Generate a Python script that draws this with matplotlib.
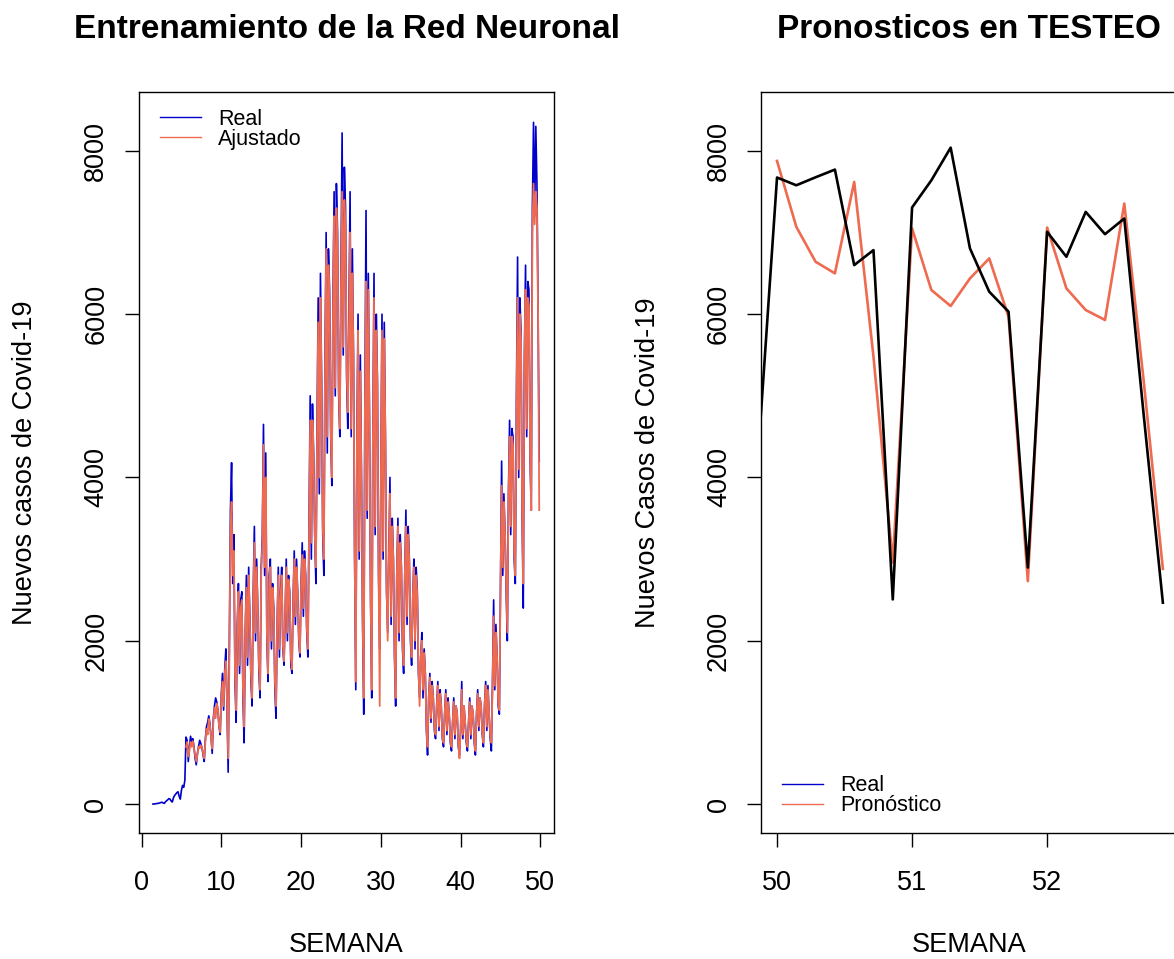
import matplotlib

matplotlib.use("Agg")
import matplotlib.pyplot as plt
import numpy as np
from matplotlib.lines import Line2D

plt.rcParams["font.family"] = ["Liberation Sans", "DejaVu Sans"]

BLUE = "#0000CD"
RED = "#EE6A50"

# day index d -> week d / 7
TRAIN_START_DAY = 10
FITTED_START_DAY = 39
TEST_START_DAY = 350

# daily new cases, training period (one row per week)
REAL_TRAIN = [
    0, 0, 2, 4,
    6, 9, 14, 18, 22, 12, 8,
    28, 40, 52, 66, 60, 36, 24,
    78, 104, 122, 140, 150, 94, 60,
    168, 228, 205, 290, 820, 780, 520,
    700, 830, 760, 800, 700, 560, 480,
    620, 700, 780, 740, 690, 600, 520,
    800, 950, 1000, 1080, 980, 820, 620,
    1050, 1200, 1300, 1250, 1150, 950, 850,
    1350, 1600, 1150, 1650, 1900, 1200, 390,
    1900, 3600, 4180, 2700, 3300, 1500, 1000,
    2200, 2700, 1600, 2500, 2600, 1300, 750,
    2100, 2800, 1700, 2900, 2300, 1500, 1200,
    2600, 3400, 2000, 3000, 2400, 1600, 1300,
    2900, 3300, 4650, 2800, 4300, 2000, 1500,
    2800, 3000, 1900, 2700, 2400, 1400, 1050,
    2200, 2900, 1800, 2600, 2900, 1900, 1700,
    2300, 3000, 2000, 2800, 2600, 1700, 1600,
    2500, 3100, 2200, 3000, 2600, 2000, 1800,
    2700, 3200, 2300, 3100, 2800, 2100, 1800,
    3500, 5000, 3000, 4900, 4300, 3300, 2700,
    4600, 6200, 3800, 6500, 5200, 3300, 2800,
    5500, 7000, 4300, 6800, 6300, 4500, 3900,
    6200, 7500, 5000, 7600, 7000, 5000, 4500,
    6500, 8220, 5500, 7800, 7300, 5200, 4600,
    6000, 7500, 4500, 6800, 5500, 3000, 1400,
    4500, 6000, 3000, 5500, 4000, 2200, 1100,
    5000, 7270, 3500, 6500, 4800, 2500, 1300,
    4500, 6500, 3300, 6000, 5200, 2800, 1900,
    4000, 6000, 3000, 5900, 4500, 2600, 2100,
    3000, 4000, 2200, 3500, 3000, 1800, 1200,
    2800, 3500, 2000, 3300, 2900, 1900, 1600,
    2800, 3600, 2200, 3400, 3000, 2000, 1700,
    2500, 3000, 1900, 2900, 2600, 1600, 1300,
    1800, 2100, 1300, 1900, 1600, 900, 600,
    1300, 1600, 1000, 1500, 1300, 900, 800,
    1200, 1500, 900, 1400, 1200, 800, 700,
    1100, 1400, 850, 1300, 1100, 750, 650,
    1000, 1300, 800, 1200, 1100, 700, 600,
    900, 1500, 800, 1200, 1000, 750, 650,
    1000, 1300, 800, 1200, 1100, 750, 600,
    1100, 1400, 900, 1300, 1200, 850, 700,
    1200, 1500, 900, 1450, 1100, 800, 650,
    1500, 2500, 1400, 2200, 1800, 1200, 1100,
    2700, 4200, 2800, 3800, 3300, 2600, 2000,
    3800, 4700, 3300, 4600, 4500, 3000, 2700,
    5000, 6700, 4000, 6200, 5800, 3500, 2400,
    5500, 6600, 4500, 6400, 6300, 4200, 3600,
    7300, 8350, 7200, 8300, 7600, 6000, 4200,
]

# network fitted values, from FITTED_START_DAY on
FITTED_TRAIN = [
    700, 760, 580,
    650, 760, 700, 770, 680, 600, 520,
    600, 700, 680, 720, 700, 620, 560,
    760, 920, 850, 1040, 960, 800, 680,
    1000, 1180, 1050, 1230, 1150, 950, 880,
    1300, 1500, 1200, 1600, 1750, 1250, 560,
    1700, 3300, 3700, 2800, 3100, 1600, 1150,
    2100, 2600, 1700, 2400, 2500, 1400, 950,
    2100, 2650, 1800, 2800, 2250, 1600, 1300,
    2500, 3200, 2100, 2900, 2350, 1700, 1400,
    2800, 3200, 4400, 2900, 4000, 2100, 1600,
    2700, 2900, 2000, 2650, 2350, 1500, 1200,
    2200, 2800, 1900, 2550, 2800, 1950, 1750,
    2300, 2900, 2100, 2750, 2550, 1800, 1650,
    2450, 3000, 2300, 2900, 2550, 2050, 1850,
    2650, 3050, 2400, 3000, 2750, 2150, 1900,
    3300, 4700, 3200, 4700, 4200, 3300, 2900,
    4400, 5900, 4000, 6200, 5000, 3400, 3000,
    5300, 6800, 4500, 6600, 6100, 4600, 4000,
    6000, 7200, 5100, 7300, 6800, 5100, 4600,
    6300, 7500, 5600, 7400, 7000, 5300, 4800,
    5800, 7000, 4600, 6500, 5400, 3100, 1500,
    4400, 5800, 3100, 5300, 3900, 2300, 1300,
    4800, 6400, 3600, 6300, 4700, 2600, 1400,
    4400, 6200, 3400, 5800, 5100, 2900, 1200,
    3900, 5800, 3100, 5700, 4500, 2700, 2000,
    3000, 3800, 2300, 3400, 3000, 1900, 1300,
    2800, 3400, 2100, 3200, 2900, 2000, 1700,
    2800, 3400, 2300, 3300, 2950, 2100, 1800,
    2500, 2900, 2000, 2800, 2550, 1700, 1200,
    1800, 2000, 1400, 1850, 1600, 950, 700,
    1300, 1550, 1050, 1450, 1300, 950, 850,
    1200, 1450, 950, 1350, 1200, 850, 750,
    1100, 1350, 900, 1250, 1100, 800, 700,
    1000, 1250, 850, 1200, 1100, 750, 560,
    900, 1400, 850, 1200, 1000, 800, 700,
    1000, 1250, 850, 1200, 1100, 800, 650,
    1100, 1350, 950, 1300, 1200, 880, 750,
    1200, 1450, 950, 1400, 1100, 850, 750,
    1400, 2300, 1450, 2100, 1800, 1250, 1150,
    2600, 3900, 2900, 3700, 3300, 2700, 2100,
    3700, 4500, 3400, 4500, 4400, 3100, 2800,
    4800, 6200, 4100, 6000, 5700, 3600, 2700,
    5400, 6300, 4600, 6200, 6100, 4300, 3600,
    7000, 7600, 7100, 7500, 7300, 6000, 3600,
]

# test period: observed vs forecast
REAL_TEST = [
    7674, 7579, 7677, 7771, 6601, 6785, 2506,
    7307, 7640, 8040, 6806, 6275, 6031, 2897,
    7009, 6703, 7253, 6980, 7172, 4780, 2466,
]
FORECAST_TEST = [
    7877, 7070, 6642, 6500, 7620, 5480, 2958,
    7050, 6296, 6100, 6438, 6683, 5969, 2730,
    7061, 6316, 6051, 5929, 7355, 5196, 2880,
]

Y_TICKS = [0, 2000, 4000, 6000, 8000]
X_TICKS_TRAIN = [0, 10, 20, 30, 40, 50]
X_TICKS_TEST = [50, 51, 52]
Y_LIMITS = (-355, 8722)

TICK_SIZE = 19.5
LABEL_SIZE = 19.5
TITLE_SIZE = 24
LEGEND_SIZE = 15.5


def _style_axes(ax, xticks, xlim, ylabel, title):
    ax.set_xlim(*xlim)
    ax.set_ylim(*Y_LIMITS)
    ax.set_xticks(xticks)
    ax.set_yticks(Y_TICKS)
    ax.set_yticklabels([str(v) for v in Y_TICKS], rotation=90, va="center")
    ax.tick_params(direction="out", length=10, width=1.0, labelsize=TICK_SIZE, color="black")
    ax.tick_params(axis="x", pad=17)
    ax.tick_params(axis="y", pad=11)
    for spine in ax.spines.values():
        spine.set_linewidth(1.0)
        spine.set_color("black")
    ax.set_xlabel("SEMANA", fontsize=LABEL_SIZE, va="center")
    ax.xaxis.set_label_coords(0.5, -0.151)
    ax.set_ylabel(ylabel, fontsize=LABEL_SIZE, va="center")
    ax.yaxis.set_label_coords(-0.273, 0.5)
    ax.text(0.5, 1.0837, title, transform=ax.transAxes, ha="center", va="center",
            fontsize=TITLE_SIZE, fontweight="bold")


def _legend_handles():
    return [Line2D([], [], color=BLUE, lw=1.0), Line2D([], [], color=RED, lw=1.0)]


def main() -> None:
    fig = plt.figure(figsize=(11.74, 9.59), dpi=100)
    ax_train = fig.add_axes([0.118, 0.1314, 0.3543, 0.7727])
    ax_test = fig.add_axes([0.6484, 0.1314, 0.3543, 0.7727])

    train_days = np.arange(TRAIN_START_DAY, TRAIN_START_DAY + len(REAL_TRAIN))
    fitted_days = np.arange(FITTED_START_DAY, FITTED_START_DAY + len(FITTED_TRAIN))
    ax_train.plot(train_days / 7, REAL_TRAIN, color=BLUE, lw=1.2)
    ax_train.plot(fitted_days / 7, FITTED_TRAIN, color=RED, lw=1.3)
    _style_axes(ax_train, X_TICKS_TRAIN, (-0.38, 51.77), "Nuevos casos de Covid-19",
                "Entrenamiento de la Red Neuronal")
    ax_train.legend(_legend_handles(), ["Real", "Ajustado"], loc="upper left",
                    bbox_to_anchor=(0.02, 0.995), frameon=False, fontsize=LEGEND_SIZE,
                    handlelength=1.9, handletextpad=0.8, labelspacing=-0.05, borderaxespad=0.2)

    test_days = np.arange(TEST_START_DAY, TEST_START_DAY + len(REAL_TEST))
    real_line = [REAL_TRAIN[-1]] + REAL_TEST
    real_days = np.concatenate([[TEST_START_DAY - 1], test_days])
    ax_test.plot(test_days / 7, FORECAST_TEST, color=RED, lw=1.9)
    ax_test.plot(real_days / 7, real_line, color="black", lw=1.9)
    _style_axes(ax_test, X_TICKS_TEST, (49.883, 52.963), "Nuevos Casos de Covid-19",
                "Pronosticos en TESTEO")
    ax_test.legend(_legend_handles(), ["Real", "Pronóstico"], loc="lower left",
                   bbox_to_anchor=(0.02, 0.005), frameon=False, fontsize=LEGEND_SIZE,
                   handlelength=1.9, handletextpad=0.8, labelspacing=-0.05, borderaxespad=0.2)

    fig.savefig("out.png", dpi=100)
    plt.close(fig)


if __name__ == "__main__":
    main()
